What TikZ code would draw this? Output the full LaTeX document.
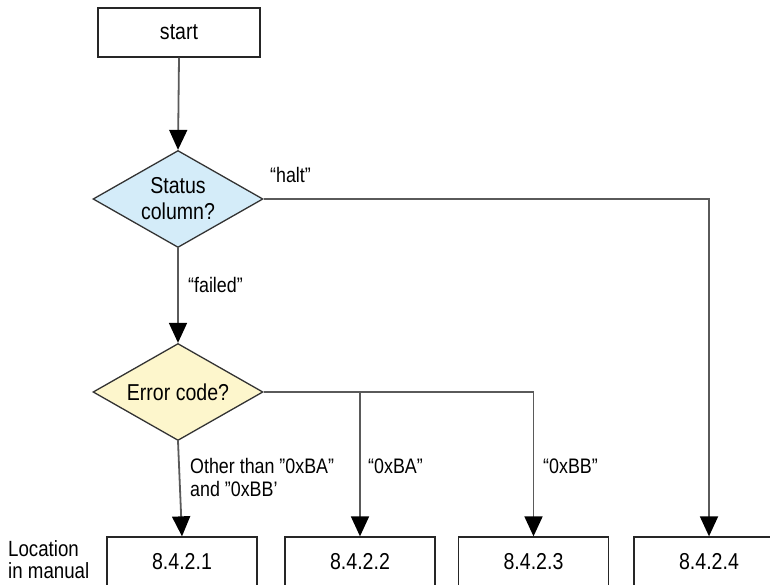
\documentclass[tikz,border=0pt]{standalone}
\usepackage{fontspec}
\setmainfont{Liberation Sans}[FakeStretch=0.85]
\usetikzlibrary{shapes.geometric,arrows.meta}
\definecolor{linegray}{HTML}{5A5A5A}
\definecolor{statusfill}{HTML}{D4ECF9}
\definecolor{errorfill}{HTML}{FDF6CC}
\newcommand{\dq}{\symbol{34}}
\newcommand{\sq}{\symbol{39}}
\begin{document}
\begin{tikzpicture}[x=1pt,y=-1pt,
  font=\fontsize{23}{26}\selectfont,
  box/.style={draw=black!85, line width=1.3pt, minimum width=150pt, minimum height=50pt, inner sep=0pt},
  decision/.style={diamond, shape aspect=1.75, draw=black!80, line width=1.3pt, minimum width=170pt, minimum height=97pt, inner sep=0pt, align=center},
  conn/.style={draw=linegray, line width=1.8pt},
  arr/.style={conn, -{Triangle[width=18pt,length=20pt,color=black]}},
  lbl/.style={anchor=west, inner sep=0pt, align=left, font=\fontsize{21}{23}\selectfont}
]
\useasboundingbox (0,0) rectangle (770,585);
\node[box, minimum width=162pt, minimum height=49pt] (start) at (179,32.5) {start};
\node[decision, fill=statusfill] (status) at (178,199) {Status\\column?};
\node[decision, fill=errorfill] (error) at (178,392) {Error code?};
\node[box] (b1) at (182,562) {8.4.2.1};
\node[box] (b2) at (360,562) {8.4.2.2};
\node[box] (b3) at (533.5,562) {8.4.2.3};
\node[box] (b4) at (709,562) {8.4.2.4};
\node[lbl, font=\fontsize{22}{22}\selectfont] (loc) at (8,560) {Location\\in manual};

\draw[arr] (start.south) -- (status.north);
\draw[arr] (status.south) -- (error.north);
\draw[arr] (status.east) -| (b4.north);
\draw[arr] (error.east) -| (b3.north);
\coordinate (split) at (b2.north |- error.east);
\draw[arr] (split) -- (b2.north);
\draw[arr] (error.south) -- (b1.north);

\node[lbl] (lhalt) at (270,175) {“halt”};
\node[lbl] (lfailed) at (188,285) {“failed”};
\node[lbl] (lother) at (190,477) {Other than \dq0xBA\dq\\and \dq0xBB\sq};
\node[lbl] (lba) at (368,466) {“0xBA”};
\node[lbl] (lbb) at (543,466) {“0xBB”};
\end{tikzpicture}
\end{document}
